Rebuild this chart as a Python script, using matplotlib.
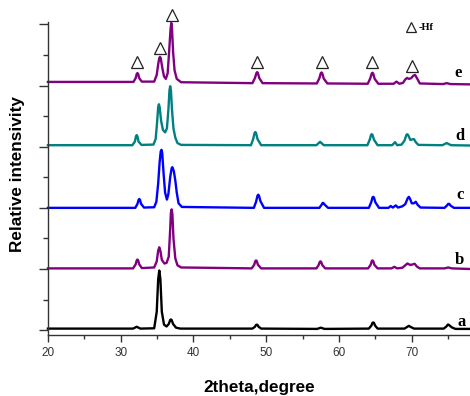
# XRD patterns of samples a-e, offset vertically
import numpy as np
import matplotlib.pyplot as plt
from matplotlib.ticker import MultipleLocator

# curve a (bottom, black)
a_x = [20, 31.7, 32.2, 32.7, 34.6, 34.95, 35.15, 35.3, 35.45, 35.65, 35.95, 36.3,
       36.6, 36.8, 36.9, 37.0, 37.2, 37.6, 38.2,
       48.1, 48.45, 48.6, 48.7, 48.8, 48.95, 49.3, 57.0, 57.5, 58.0,
       64.1, 64.45, 64.6, 64.7, 64.8, 64.95, 65.3, 69.0, 69.4, 69.6, 69.8, 70.3,
       74.4, 74.8, 74.95, 75.05, 75.2, 75.5, 76.0, 78]
a_y = [0.05, 0.05, 0.11, 0.05, 0.06, 0.6, 1.67, 1.95, 1.67, 0.6, 0.18, 0.12,
       0.2, 0.33, 0.35, 0.33, 0.2, 0.08, 0.05,
       0.05, 0.11, 0.17, 0.18, 0.17, 0.11, 0.05, 0.04, 0.08, 0.04,
       0.05, 0.15, 0.24, 0.25, 0.24, 0.15, 0.05, 0.05, 0.11, 0.14, 0.11, 0.05,
       0.05, 0.13, 0.18, 0.18, 0.15, 0.09, 0.04, 0.04]

# curve b (purple)
b_x = [20, 31.7, 32.05, 32.2, 32.3, 32.4, 32.55, 32.9,
       34.6, 34.95, 35.15, 35.3, 35.45, 35.65, 36.0, 36.3,
       36.6, 36.8, 36.9, 37.0, 37.1, 37.25, 37.5, 37.8, 38.3,
       48.0, 48.35, 48.5, 48.6, 48.7, 48.85, 49.3,
       56.9, 57.2, 57.35, 57.45, 57.55, 57.7, 58.1,
       64.0, 64.35, 64.5, 64.6, 64.7, 64.85, 65.3,
       67.2, 67.6, 68.0, 68.7, 69.1, 69.4, 69.8, 70.4, 70.7, 71.1,
       74.5, 75.0, 75.5, 78]
b_y = [2.02, 2.02, 2.15, 2.28, 2.31, 2.28, 2.15, 2.03,
       2.05, 2.25, 2.6, 2.71, 2.6, 2.3, 2.18, 2.2,
       2.4, 3.3, 3.85, 3.95, 3.8, 3.0, 2.35, 2.12, 2.05,
       2.02, 2.14, 2.26, 2.28, 2.26, 2.14, 2.02,
       2.02, 2.13, 2.23, 2.25, 2.23, 2.13, 2.02,
       2.02, 2.14, 2.26, 2.28, 2.26, 2.14, 2.02,
       2.02, 2.07, 2.02, 2.04, 2.12, 2.18, 2.13, 2.17, 2.08, 2.02,
       2.02, 2.05, 2.02, 2.0]

# curve c (blue)
c_x = [20, 32.0, 32.3, 32.45, 32.55, 32.65, 32.8, 33.2,
       34.6, 34.9, 35.15, 35.35, 35.5, 35.6, 35.7, 35.9, 36.1, 36.35,
       36.55, 36.8, 37.0, 37.1, 37.3, 37.5, 37.7, 37.95, 38.4,
       48.3, 48.6, 48.8, 48.9, 49.0, 49.2, 49.7,
       57.3, 57.6, 57.75, 57.85, 58.05, 58.5,
       64.1, 64.45, 64.6, 64.7, 64.8, 65.0, 65.5,
       66.8, 67.1, 67.4, 67.8, 68.1, 68.7, 69.1, 69.45, 69.6, 69.75, 70.0, 70.3,
       70.55, 70.8, 71.2, 74.5, 74.85, 75.0, 75.15, 75.35, 75.8, 78]
c_y = [4.0, 4.0, 4.13, 4.26, 4.29, 4.26, 4.13, 4.01,
       4.02, 4.2, 4.8, 5.5, 5.85, 5.9, 5.8, 5.1, 4.5, 4.27,
       4.45, 5.0, 5.3, 5.33, 5.2, 4.9, 4.5, 4.15, 4.03,
       4.0, 4.2, 4.4, 4.43, 4.4, 4.22, 4.0,
       4.0, 4.1, 4.16, 4.16, 4.1, 4.0,
       4.0, 4.2, 4.34, 4.36, 4.34, 4.18, 4.0,
       4.0, 4.06, 4.01, 4.08, 4.01, 4.05, 4.12, 4.32, 4.36, 4.3, 4.15, 4.15,
       4.2, 4.1, 4.01, 4.0, 4.08, 4.13, 4.13, 4.07, 4.0, 4.0]

# curve d (teal)
d_x = [20, 31.6, 31.95, 32.1, 32.2, 32.3, 32.45, 32.85,
       34.5, 34.8, 35.0, 35.15, 35.25, 35.35, 35.55, 35.8, 36.1,
       36.35, 36.55, 36.7, 36.8, 36.9, 37.05, 37.25, 37.5, 37.8, 38.3,
       47.9, 48.2, 48.4, 48.5, 48.6, 48.8, 49.3,
       56.9, 57.25, 57.4, 57.55, 57.9,
       63.9, 64.25, 64.4, 64.5, 64.6, 64.8, 65.3,
       67.3, 67.7, 68.0, 68.6, 69.0, 69.25, 69.4, 69.55, 69.8, 70.05, 70.3, 70.55, 70.9,
       74.2, 74.8, 75.4, 78]
d_y = [6.05, 6.05, 6.17, 6.34, 6.38, 6.34, 6.17, 6.06,
       6.07, 6.25, 6.8, 7.3, 7.39, 7.3, 6.85, 6.55, 6.47,
       6.6, 7.2, 7.85, 7.98, 7.85, 7.2, 6.6, 6.3, 6.12, 6.06,
       6.05, 6.25, 6.45, 6.48, 6.45, 6.25, 6.05,
       6.05, 6.13, 6.16, 6.13, 6.05,
       6.05, 6.25, 6.39, 6.41, 6.39, 6.23, 6.05,
       6.05, 6.15, 6.05, 6.07, 6.2, 6.38, 6.41, 6.36, 6.22, 6.24, 6.25, 6.15, 6.06,
       6.05, 6.12, 6.05, 6.04]

# curve e (top, purple)
e_x = [20, 31.75, 32.05, 32.2, 32.3, 32.4, 32.55, 32.9,
       34.6, 34.95, 35.15, 35.3, 35.4, 35.5, 35.7, 35.95, 36.2,
       36.45, 36.65, 36.85, 36.95, 37.05, 37.2, 37.4, 37.7, 38.3,
       48.1, 48.45, 48.65, 48.75, 48.85, 49.05, 49.5,
       56.95, 57.3, 57.5, 57.6, 57.7, 57.9, 58.4,
       63.95, 64.3, 64.5, 64.6, 64.7, 64.9, 65.4,
       67.5, 67.9, 68.3, 68.8, 69.1, 69.35, 69.6, 69.9, 70.2, 70.45, 70.7, 71.1,
       74.3, 74.8, 75.3, 78]
e_y = [8.12, 8.12, 8.24, 8.38, 8.41, 8.38, 8.24, 8.13,
       8.13, 8.35, 8.7, 8.9, 8.94, 8.9, 8.6, 8.3, 8.22,
       8.4, 9.1, 9.85, 10.05, 9.85, 9.1, 8.5, 8.22, 8.11,
       8.08, 8.25, 8.41, 8.44, 8.41, 8.24, 8.08,
       8.07, 8.24, 8.41, 8.43, 8.4, 8.23, 8.07,
       8.06, 8.24, 8.4, 8.42, 8.39, 8.22, 8.06,
       8.06, 8.13, 8.06, 8.09, 8.2, 8.25, 8.22, 8.24, 8.32, 8.35, 8.25, 8.07,
       8.05, 8.08, 8.05, 8.04]

curves = [(a_x, a_y, 'k'), (b_x, b_y, '#800080'), (c_x, c_y, '#0000ff'),
          (d_x, d_y, '#008080'), (e_x, e_y, '#800080')]

labels = ['a', 'b', 'c', 'd', 'e']
label_x = [76.8, 76.6, 76.6, 76.6, 76.3]
label_y = [0.27, 2.29, 4.42, 6.35, 8.41]

# Hf reflections marked with triangles
tri_x = [32.3, 35.35, 37.0, 48.75, 57.6, 64.6, 70.0]
tri_y = [8.77, 9.23, 10.31, 8.78, 8.78, 8.78, 8.65]

fig = plt.figure(figsize=(4.70, 3.96), dpi=100)
ax = fig.add_axes([0.102, 0.154, 0.898, 0.7904])

for x, y, col in curves:
  ax.plot(x, y, color=col, lw=1.7, clip_on=False, solid_joinstyle='round')

for i in range(len(labels)):
  ax.text(label_x[i], label_y[i], labels[i], ha='center', va='center',
          family='Liberation Serif', weight='bold', fontsize=12)

ax.plot(tri_x, tri_y, ls='none', marker='^', ms=8, mfc='none', mec='#222222',
        mew=0.9, clip_on=False)

# legend-like key at the top right
ax.plot([69.86], [9.93], ls='none', marker='^', ms=6.5, mfc='none', mec='#222222',
        mew=0.9, clip_on=False)
ax.text(70.9, 9.93, '-Hf', ha='left', va='center_baseline', family='Liberation Serif',
        weight='bold', fontsize=7.5)

ax.set_xlim(20, 78)
ax.set_ylim(-0.16, 10.08)

ax.spines['top'].set_visible(False)
ax.spines['right'].set_visible(False)
for s in ['left', 'bottom']:
  ax.spines[s].set_color('#333333')
  ax.spines[s].set_linewidth(1.0)

ax.xaxis.set_major_locator(MultipleLocator(10))
ax.xaxis.set_minor_locator(MultipleLocator(5))
ax.yaxis.set_major_locator(MultipleLocator(2))
ax.yaxis.set_minor_locator(MultipleLocator(1))
ax.set_xticks([20, 30, 40, 50, 60, 70])
ax.set_yticklabels([])
ax.tick_params(axis='x', which='major', direction='out', length=5, width=1,
               color='#333333', labelsize=8.5, labelcolor='#333333',
               labelfontfamily='Liberation Sans')
ax.tick_params(axis='x', which='minor', direction='out', length=3, width=1, color='#333333')
ax.tick_params(axis='y', which='major', direction='out', length=6.5, width=1, color='#333333')
ax.tick_params(axis='y', which='minor', direction='out', length=3.5, width=1, color='#333333')

ax.set_xlabel('2theta,degree', family='Liberation Sans', weight='bold', fontsize=12.3)
ax.xaxis.set_label_coords(0.5, -0.169)
ax.xaxis.label.set_va('center')
ax.set_ylabel('Relative intensivity', family='Liberation Sans', weight='bold', fontsize=12.3)
ax.yaxis.set_label_coords(-0.071, 0.514)
ax.yaxis.label.set_va('center')

fig.savefig('out.png', dpi=100)
